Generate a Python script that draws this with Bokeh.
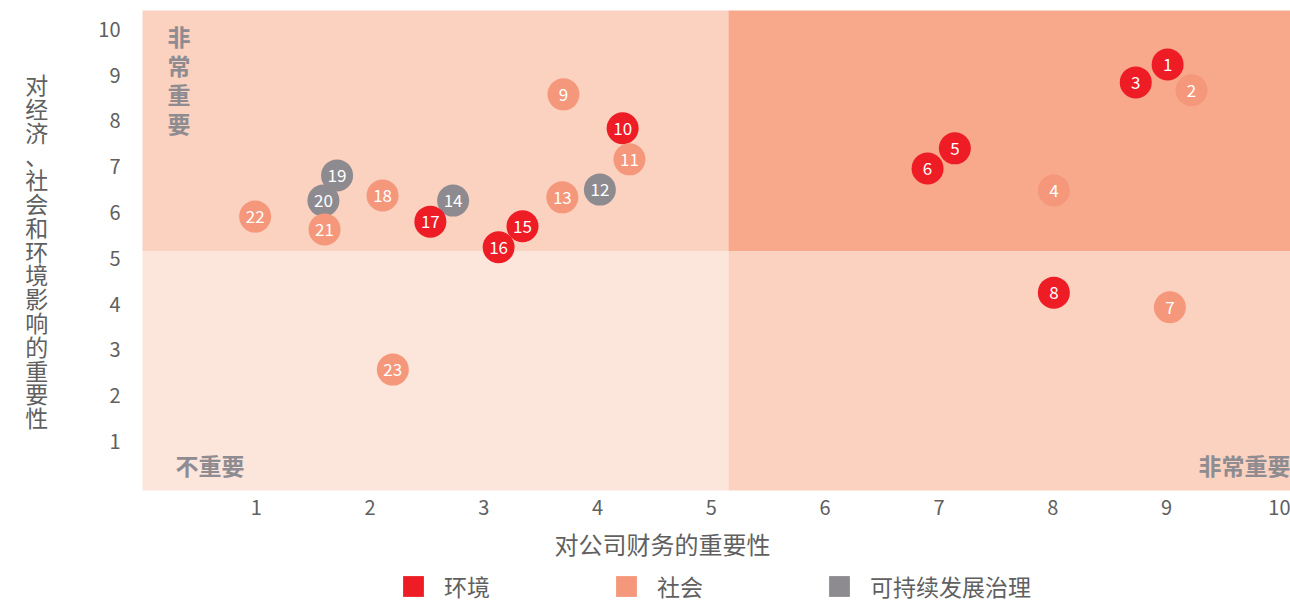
from bokeh.plotting import figure
from bokeh.layouts import column
from bokeh.models import Range1d, FixedTicker, ColumnDataSource, Legend, LegendItem, Label
from bokeh.embed import file_html
from bokeh.resources import INLINE
from bokeh.core.properties import value

FONT = "Noto Sans CJK SC"

# ---- data ----
ids = [str(i) for i in range(1, 24)]
x_vals = [9.01, 9.22, 8.73, 8.01, 7.14, 6.90, 9.03, 8.01, 3.70, 4.22, 4.28, 4.02,
          3.69, 2.73, 3.34, 3.13, 2.53, 2.11, 1.71, 1.59, 1.60, 0.99, 2.20]
y_vals = [9.23, 8.67, 8.84, 6.48, 7.40, 6.96, 3.93, 4.25, 8.58, 7.84, 7.16, 6.50,
          6.33, 6.26, 5.70, 5.24, 5.80, 6.37, 6.81, 6.26, 5.63, 5.91, 2.57]
categories = ["环境", "社会", "环境", "社会", "环境", "环境", "社会", "环境", "社会", "环境",
              "社会", "可持续发展治理", "社会", "可持续发展治理", "环境", "环境", "环境",
              "社会", "可持续发展治理", "可持续发展治理", "社会", "社会", "社会"]
series_names = ["环境", "社会", "可持续发展治理"]
series_colors = ["#EE1C25", "#F4977A", "#8D8B90"]

threshold = 5.15
quad_left = [-1, threshold, -1, threshold]
quad_right = [threshold, 11, threshold, 11]
quad_bottom = [threshold, threshold, -1, -1]
quad_top = [11, 11, threshold, threshold]
quad_colors = ["#FBD1BF", "#F8A98C", "#FCE5DA", "#FBD1BF"]

x_ticks = [1, 2, 3, 4, 5, 6, 7, 8, 9, 10]
y_ticks = [1, 2, 3, 4, 5, 6, 7, 8, 9, 10]
x_title = "对公司财务的重要性"
y_title = "对经济、社会和环境影响的重要性"

color_map = dict(zip(series_names, series_colors))
src = ColumnDataSource(dict(x=x_vals, y=y_vals, id=ids, cat=categories,
                            color=[color_map[c] for c in categories]))

p = figure(width=1290, height=524, output_backend="svg", toolbar_location=None,
           x_range=Range1d(0, 10.09), y_range=Range1d(-0.07, 10.41),
           min_border_left=142, min_border_right=0, min_border_top=10,
           min_border_bottom=34)
p.outline_line_color = None
p.xgrid.visible = False
p.ygrid.visible = False

p.quad(left=quad_left, right=quad_right, bottom=quad_bottom, top=quad_top,
       fill_color=quad_colors, line_color=None)

p.scatter("x", "y", source=src, size=32, fill_color="color", line_color=None)
p.text("x", "y", text="id", source=src, text_color="white", text_align="center",
       text_baseline="middle", text_font=value(FONT), text_font_size="17px")

# axes
for ax in (p.xaxis[0], p.yaxis[0]):
    ax.axis_line_color = None
    ax.major_tick_line_color = None
    ax.minor_tick_line_color = None
    ax.major_tick_in = 0
    ax.major_tick_out = 0
    ax.minor_tick_out = 0
    ax.major_label_text_font = FONT
    ax.major_label_text_font_size = "20px"
    ax.major_label_text_color = "#606060"
    ax.axis_label_text_font = FONT
    ax.axis_label_text_font_size = "23px"
    ax.axis_label_text_font_style = "normal"
    ax.axis_label_text_color = "#606060"

p.xaxis.ticker = FixedTicker(ticks=x_ticks)
p.yaxis.ticker = FixedTicker(ticks=y_ticks)
p.xaxis.major_label_standoff = 9
p.yaxis.axis_label = "\n".join(y_title)
p.yaxis.axis_label_orientation = "horizontal"
p.yaxis.axis_label_text_line_height = 0.70
p.yaxis.major_label_standoff = 22
p.yaxis.axis_label_standoff = 47

# quadrant labels
lab_kw = dict(text_font=FONT, text_font_size="23px", text_font_style="bold",
              text_color="#8E8C91")
p.add_layout(Label(x=0.32, y=10.22, text="\n".join("非常重要"), text_align="center",
                   text_baseline="top", text_line_height=0.85, **lab_kw))
p.add_layout(Label(x=0.29, y=0.48, text="不重要", text_align="left",
                   text_baseline="middle", **lab_kw))
p.add_layout(Label(x=10.09, y=0.48, text="非常重要", text_align="right",
                   text_baseline="middle", **lab_kw))

# strip below: x-axis title and legend
p2 = figure(width=1290, height=79, output_backend="svg", toolbar_location=None,
            x_range=Range1d(0, 10.09), y_range=Range1d(0, 79),
            x_axis_location=None, y_axis_location=None, min_border=0)
p2.outline_line_color = None
p2.grid.visible = False
p2.add_layout(Label(x=4.57, y=60, text=x_title, text_align="center",
                    text_baseline="middle", text_font=FONT, text_font_size="24px",
                    text_color="#606060"))
items = []
nan = float("nan")
for name, col in zip(series_names, series_colors):
    r = p2.quad(left=[nan], right=[nan], top=[nan], bottom=[nan],
                fill_color=col, line_color=None)
    items.append(LegendItem(label=name, renderers=[r]))
legend = Legend(items=items, orientation="horizontal", location=(258, 0),
                glyph_width=26, glyph_height=26, label_standoff=18, label_width=150,
                spacing=19, padding=0, margin=0, border_line_color=None,
                background_fill_alpha=0, label_text_font=FONT,
                label_text_font_size="23px", label_text_color="#606060")
p2.add_layout(legend, "center")

layout = column(p, p2, spacing=0)
open("out.html", "w").write(file_html(layout, INLINE))
